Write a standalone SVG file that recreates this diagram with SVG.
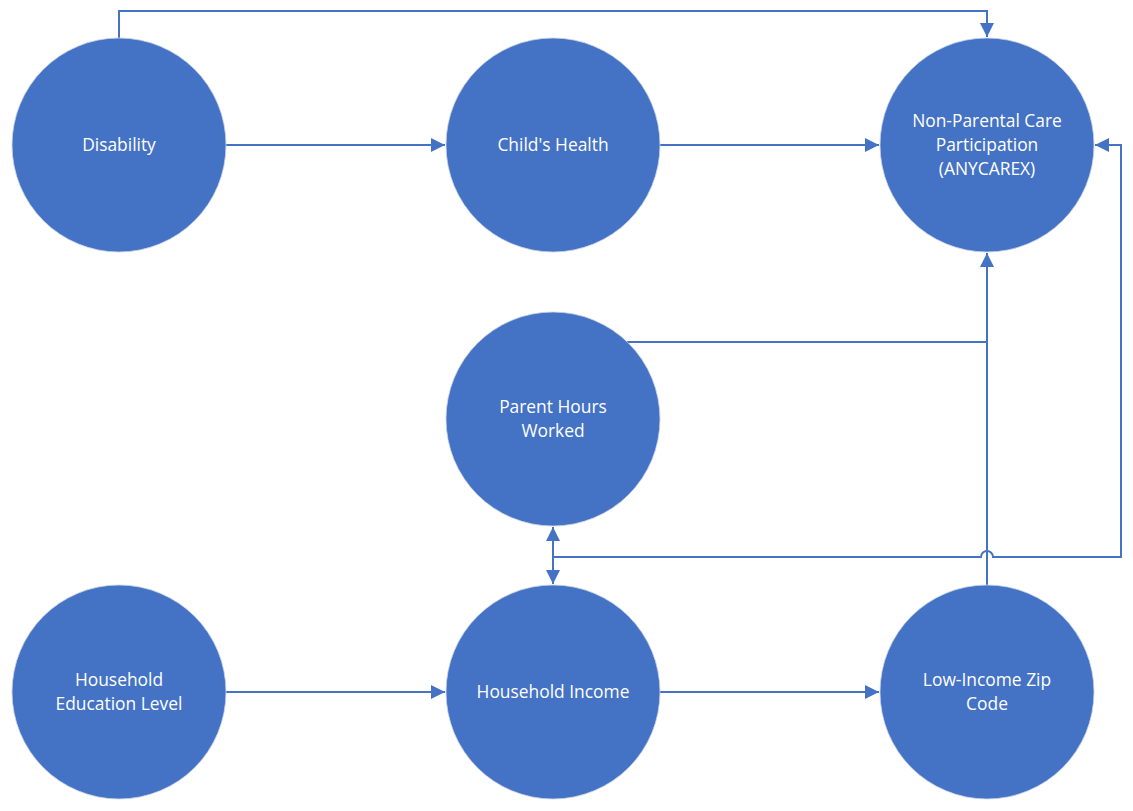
<svg xmlns="http://www.w3.org/2000/svg" width="1133" height="811" viewBox="0 0 1133 811">
<style>
.n{fill:#4472C4;stroke:#c9d3e6;stroke-width:0.8}
.t{fill:#ffffff;font-family:"Open Sans","Noto Sans","Liberation Sans",sans-serif;font-size:17.4px;text-anchor:middle}
.c{fill:none;stroke:#4472C4;stroke-width:2}
</style>
<defs>
<marker id="a" viewBox="0 0 10 10" refX="10" refY="5" markerWidth="7" markerHeight="7" markerUnits="strokeWidth" orient="auto-start-reverse">
<path d="M0,0 L10,5 L0,10 z" fill="#4472C4"/>
</marker>
</defs>
<rect width="1133" height="811" fill="#ffffff"/>
<g id="connectors">
<path class="c" d="M119,38 V11 H987 V37" marker-end="url(#a)"/>
<path class="c" d="M226,145 H445" marker-end="url(#a)"/>
<path class="c" d="M660,145 H879" marker-end="url(#a)"/>
<path class="c" d="M627,342 H987"/>
<path class="c" d="M987,585 V253" marker-end="url(#a)"/>
<path class="c" d="M553,527 V584" marker-start="url(#a)" marker-end="url(#a)"/>
<path class="c" d="M553,557 H981 A6,6 0 0 1 993,557 H1121 V145 H1095" marker-end="url(#a)"/>
<path class="c" d="M226,692 H445" marker-end="url(#a)"/>
<path class="c" d="M660,692 H879" marker-end="url(#a)"/>
</g>
<g id="disability"><circle class="n" cx="119" cy="145" r="107"/><text class="t" x="119" y="151">Disability</text></g>
<g id="childs-health"><circle class="n" cx="553" cy="145" r="107"/><text class="t" x="553" y="151">Child's Health</text></g>
<g id="non-parental"><circle class="n" cx="987" cy="145" r="107"/><text class="t" x="987" y="127">Non-Parental Care</text><text class="t" x="987" y="151">Participation</text><text class="t" x="987" y="175">(ANYCAREX)</text></g>
<g id="parent-hours"><circle class="n" cx="553" cy="419" r="107"/><text class="t" x="553" y="413">Parent Hours</text><text class="t" x="553" y="437">Worked</text></g>
<g id="household-education"><circle class="n" cx="119" cy="692" r="107"/><text class="t" x="119" y="686">Household</text><text class="t" x="119" y="710">Education Level</text></g>
<g id="household-income"><circle class="n" cx="553" cy="692" r="107"/><text class="t" x="553" y="698">Household Income</text></g>
<g id="low-income-zip"><circle class="n" cx="987" cy="692" r="107"/><text class="t" x="987" y="686">Low-Income Zip</text><text class="t" x="987" y="710">Code</text></g>
</svg>
